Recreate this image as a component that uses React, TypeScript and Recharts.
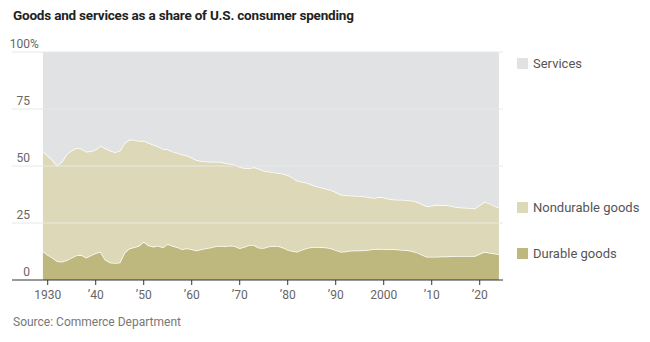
import { AreaChart, Area, XAxis, YAxis, ReferenceLine } from "recharts";

const firstYear = 1929;

// shares of consumer spending, percent, 1929–2024
const durable = [
  12.6, 11.0, 9.8, 8.2, 8.0, 8.8, 9.8, 10.8, 11.0, 9.8,
  10.8, 11.8, 12.4, 8.9, 7.7, 7.5, 7.7, 12.0, 13.8, 14.4,
  15.0, 16.8, 15.2, 14.6, 15.1, 14.3, 15.8, 15.0, 14.4, 13.5,
  13.9, 13.5, 12.9, 13.5, 13.9, 14.3, 14.8, 15.0, 14.8, 15.1,
  14.9, 13.9, 14.6, 15.3, 15.3, 14.1, 14.0, 14.7, 15.0, 14.9,
  14.2, 13.2, 12.7, 12.4, 13.3, 14.0, 14.4, 14.6, 14.4, 14.3,
  13.9, 13.1, 12.4, 12.5, 12.8, 12.9, 12.9, 13.1, 13.3, 13.6,
  13.7, 13.6, 13.5, 13.5, 13.4, 13.2, 13.0, 12.6, 12.0, 11.0,
  10.2, 10.2, 10.2, 10.3, 10.3, 10.4, 10.5, 10.5, 10.5, 10.5,
  10.5, 11.5, 12.4, 11.9, 11.6, 11.3,
];

const nondurable = [
  44.0, 43.5, 42.7, 42.0, 44.0, 46.5, 47.0, 47.2, 46.6, 46.5,
  45.7, 45.4, 46.4, 48.9, 49.1, 48.5, 48.9, 48.0, 47.8, 47.1,
  46.0, 44.3, 45.0, 44.7, 43.4, 43.1, 41.5, 41.3, 41.4, 41.5,
  40.7, 40.1, 39.7, 38.7, 38.1, 37.6, 37.1, 36.9, 36.5, 35.9,
  35.7, 35.6, 34.5, 33.7, 34.1, 34.7, 33.9, 32.9, 32.2, 32.0,
  32.4, 32.8, 32.2, 31.1, 29.8, 28.6, 27.4, 26.5, 26.2, 25.7,
  25.6, 25.5, 25.1, 24.7, 24.3, 24.1, 23.9, 23.5, 23.0, 22.4,
  22.7, 22.6, 22.1, 21.8, 21.8, 22.0, 22.0, 22.2, 22.2, 22.2,
  22.2, 22.4, 22.8, 22.6, 22.5, 22.2, 21.5, 21.3, 21.2, 21.1,
  20.9, 21.3, 21.9, 21.7, 21.0, 20.4,
];

const services = [
  43.4, 45.5, 47.5, 49.8, 48.0, 44.7, 43.2, 42.0, 42.4, 43.7,
  43.5, 42.8, 41.2, 42.2, 43.2, 44.0, 43.4, 40.0, 38.4, 38.5,
  39.0, 38.9, 39.8, 40.7, 41.5, 42.6, 42.7, 43.7, 44.2, 45.0,
  45.4, 46.4, 47.4, 47.8, 48.0, 48.1, 48.1, 48.1, 48.7, 49.0,
  49.4, 50.5, 50.9, 51.0, 50.6, 51.2, 52.1, 52.4, 52.8, 53.1,
  53.4, 54.0, 55.1, 56.5, 56.9, 57.4, 58.2, 58.9, 59.4, 60.0,
  60.5, 61.4, 62.5, 62.8, 62.9, 63.0, 63.2, 63.4, 63.7, 64.0,
  63.6, 63.8, 64.4, 64.7, 64.8, 64.8, 65.0, 65.2, 65.8, 66.8,
  67.6, 67.4, 67.0, 67.1, 67.2, 67.4, 68.0, 68.2, 68.3, 68.4,
  68.6, 67.2, 65.7, 66.4, 67.4, 68.3,
];

const xTicks = [1930, 1940, 1950, 1960, 1970, 1980, 1990, 2000, 2010, 2020];
const yTicks = [0, 25, 50, 75, 100];

const legendItems = [
  { label: "Services", color: "#e1e2e4", y: 58 },
  { label: "Nondurable goods", color: "#ddd8b8", y: 202 },
  { label: "Durable goods", color: "#bfb87e", y: 248 },
];

const data = durable.map((d, i) => ({
  year: firstYear + i,
  durable: d,
  nondurable: nondurable[i],
  services: services[i],
}));

const font = "Roboto, 'Liberation Sans', sans-serif";

const fmtYear = (y: number) =>
  y === 1930 || y === 2000 ? String(y) : "\u2019" + String(y).slice(2);

// value label sitting just above each gridline, numbers right-aligned
const YLabel = (props: any) => {
  const { viewBox, value } = props;
  if (!viewBox) return null;
  const y = viewBox.y - 4;
  return (
    <g>
      <text x={30} y={y} textAnchor="end" fontSize={12} fill="#666" fontFamily={font}>
        {value}
      </text>
      {value === 100 && (
        <text x={30} y={y} textAnchor="start" fontSize={12} fill="#666" fontFamily={font}>
          %
        </text>
      )}
    </g>
  );
};

export default function App() {
  return (
    <div
      style={{
        position: "absolute",
        left: 0,
        top: 0,
        width: 650,
        height: 342,
        background: "#fff",
        fontFamily: font,
      }}
    >
      <div
        style={{
          position: "absolute",
          left: 13,
          top: 7,
          fontSize: 13.5,
          lineHeight: "16px",
          fontWeight: 700,
          color: "#222",
          letterSpacing: -0.2,
          whiteSpace: "nowrap",
        }}
      >
        Goods and services as a share of U.S. consumer spending
      </div>

      <AreaChart
        width={650}
        height={342}
        data={data}
        margin={{ top: 52, right: 147, bottom: 42, left: 12 }}
      >
        <XAxis
          dataKey="year"
          type="number"
          domain={[1922.56, 2024.85]}
          ticks={xTicks}
          tickFormatter={fmtYear}
          height={20}
          tickSize={5}
          tickMargin={5}
          axisLine={{ stroke: "#333" }}
          tickLine={{ stroke: "#333" }}
          tick={{ fontSize: 12, fill: "#666", fontFamily: font }}
        />
        <YAxis type="number" domain={[0, 100]} ticks={yTicks} hide />
        <Area
          type="linear"
          dataKey="durable"
          stackId="a"
          fill="#bfb87e"
          fillOpacity={1}
          stroke="#fff"
          strokeWidth={1.5}
          isAnimationActive={false}
        />
        <Area
          type="linear"
          dataKey="nondurable"
          stackId="a"
          fill="#ddd8b8"
          fillOpacity={1}
          stroke="#fff"
          strokeWidth={1.5}
          isAnimationActive={false}
        />
        <Area
          type="linear"
          dataKey="services"
          stackId="a"
          fill="#e1e2e4"
          fillOpacity={1}
          stroke="none"
          isAnimationActive={false}
        />
        {yTicks.map((v) => (
          <ReferenceLine
            key={v}
            y={v}
            stroke={v === 0 ? "none" : "#e8e8e8"}
            strokeWidth={1}
            label={<YLabel value={v} />}
          />
        ))}
      </AreaChart>

      <svg
        width={140}
        height={342}
        style={{ position: "absolute", left: 510, top: 0 }}
      >
        {legendItems.map((it) => (
          <g key={it.label}>
            <rect x={7} y={it.y} width={11} height={11} fill={it.color} />
            <text x={23} y={it.y + 9.5} fontSize={13} fill="#555" fontFamily={font}>
              {it.label}
            </text>
          </g>
        ))}
      </svg>

      <div
        style={{
          position: "absolute",
          left: 13,
          top: 314,
          fontSize: 12,
          lineHeight: "16px",
          color: "#777",
          whiteSpace: "nowrap",
        }}
      >
        Source: Commerce Department
      </div>
    </div>
  );
}
